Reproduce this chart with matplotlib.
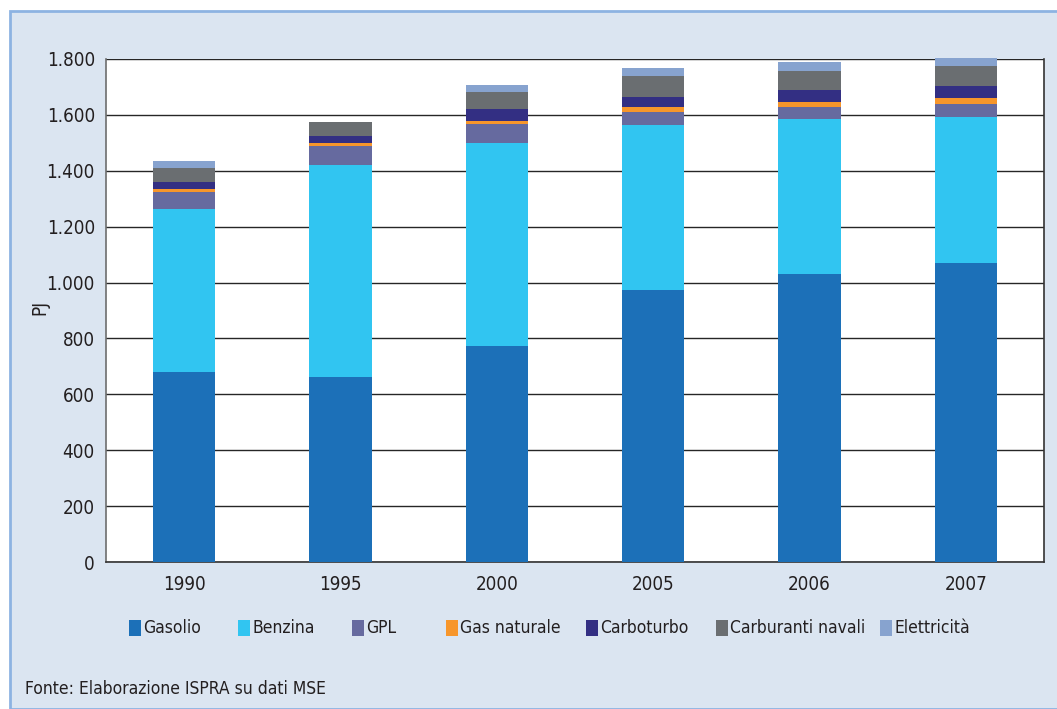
import matplotlib
matplotlib.use("Agg")
import matplotlib.pyplot as plt
from matplotlib.patches import Rectangle
from matplotlib.ticker import FuncFormatter
import numpy as np

plt.rcParams['font.family'] = ['DejaVu Sans']
plt.rcParams['font.stretch'] = 'condensed'

anni = ['1990', '1995', '2000', '2005', '2006', '2007']
gasolio = [680, 662, 773, 973, 1031, 1070]
benzina = [583, 759, 727, 591, 555, 523]
gpl = [61, 68, 68, 47, 42, 46]
gas_naturale = [11, 11, 10, 17, 18, 22]
carboturbo = [25, 25, 43, 36, 43, 43]
carburanti_navali = [50, 50, 61, 75, 68, 71]
elettricita = [25, 0, 25, 29, 33, 30]

serie = [
    ('Gasolio', gasolio, '#1c70b8'),
    ('Benzina', benzina, '#31c5f1'),
    ('GPL', gpl, '#666a9f'),
    ('Gas naturale', gas_naturale, '#f7962b'),
    ('Carboturbo', carboturbo, '#332f83'),
    ('Carburanti navali', carburanti_navali, '#6a6e71'),
    ('Elettricità', elettricita, '#87a3cf'),
]

W, H = 1057, 709
fig = plt.figure(figsize=(W / 100, H / 100), dpi=100)
fig.patch.set_facecolor('white')

# cornice azzurra dello sfondo
fig.patches.append(Rectangle((10 / W, 0), 1.2, 1 - 11 / H, transform=fig.transFigure,
                             facecolor='#dbe5f1', edgecolor='#8db3e2', linewidth=2, zorder=-5))

ax = fig.add_axes([106 / W, 1 - 562 / H, (1044 - 106) / W, (562 - 59) / H])
ax.set_zorder(2)
ax.set_facecolor('white')

x = np.arange(len(anni))
base = np.zeros(len(anni))
for nome, valori, colore in serie:
    ax.bar(x, valori, bottom=base, width=0.40, color=colore, label=nome, zorder=3, clip_on=False)
    base += np.array(valori)

ax.set_xlim(-0.5, len(anni) - 0.5)
ax.set_ylim(0, 1800)
ax.set_yticks(range(0, 1801, 200))
ax.yaxis.set_major_formatter(FuncFormatter(lambda v, p: f'{int(v):,}'.replace(',', '.')))
ax.set_xticks(x)
ax.set_xticklabels(anni)
ax.tick_params(axis='both', length=0, labelsize=13.5, colors='#231f20')
ax.tick_params(axis='y', pad=8)
ax.tick_params(axis='x', pad=9)
ax.grid(axis='y', color='#262626', linewidth=1.0, zorder=1)
ax.set_axisbelow(True)
ax.spines['top'].set_visible(False)
ax.spines['left'].set_color('#6d6d6d')
ax.spines['bottom'].set_color('#333333')
ax.spines['right'].set_color('#333333')
for s in ['left', 'bottom', 'right']:
    ax.spines[s].set_linewidth(1.2)

fig.text(40 / W, 1 - 307 / H, 'PJ', rotation=90, ha='center', va='center',
         fontsize=13.5, color='#231f20')

# legenda disposta come nell'originale
leg_x = [129, 238, 352, 446, 586, 716, 880]
for (nome, valori, colore), lx in zip(serie, leg_x):
    fig.patches.append(Rectangle((lx / W, 1 - 636 / H), 12 / W, 16 / H,
                                 transform=fig.transFigure, facecolor=colore, edgecolor='none'))
    fig.text((lx + 14) / W, 1 - 628 / H, nome, ha='left', va='center',
             fontsize=12.5, color='#231f20')

fig.text(25 / W, 1 - 689 / H, 'Fonte: Elaborazione ISPRA su dati MSE', ha='left', va='center',
         fontsize=12.5, color='#231f20')

fig.savefig('out.png', dpi=100, facecolor=fig.get_facecolor())
